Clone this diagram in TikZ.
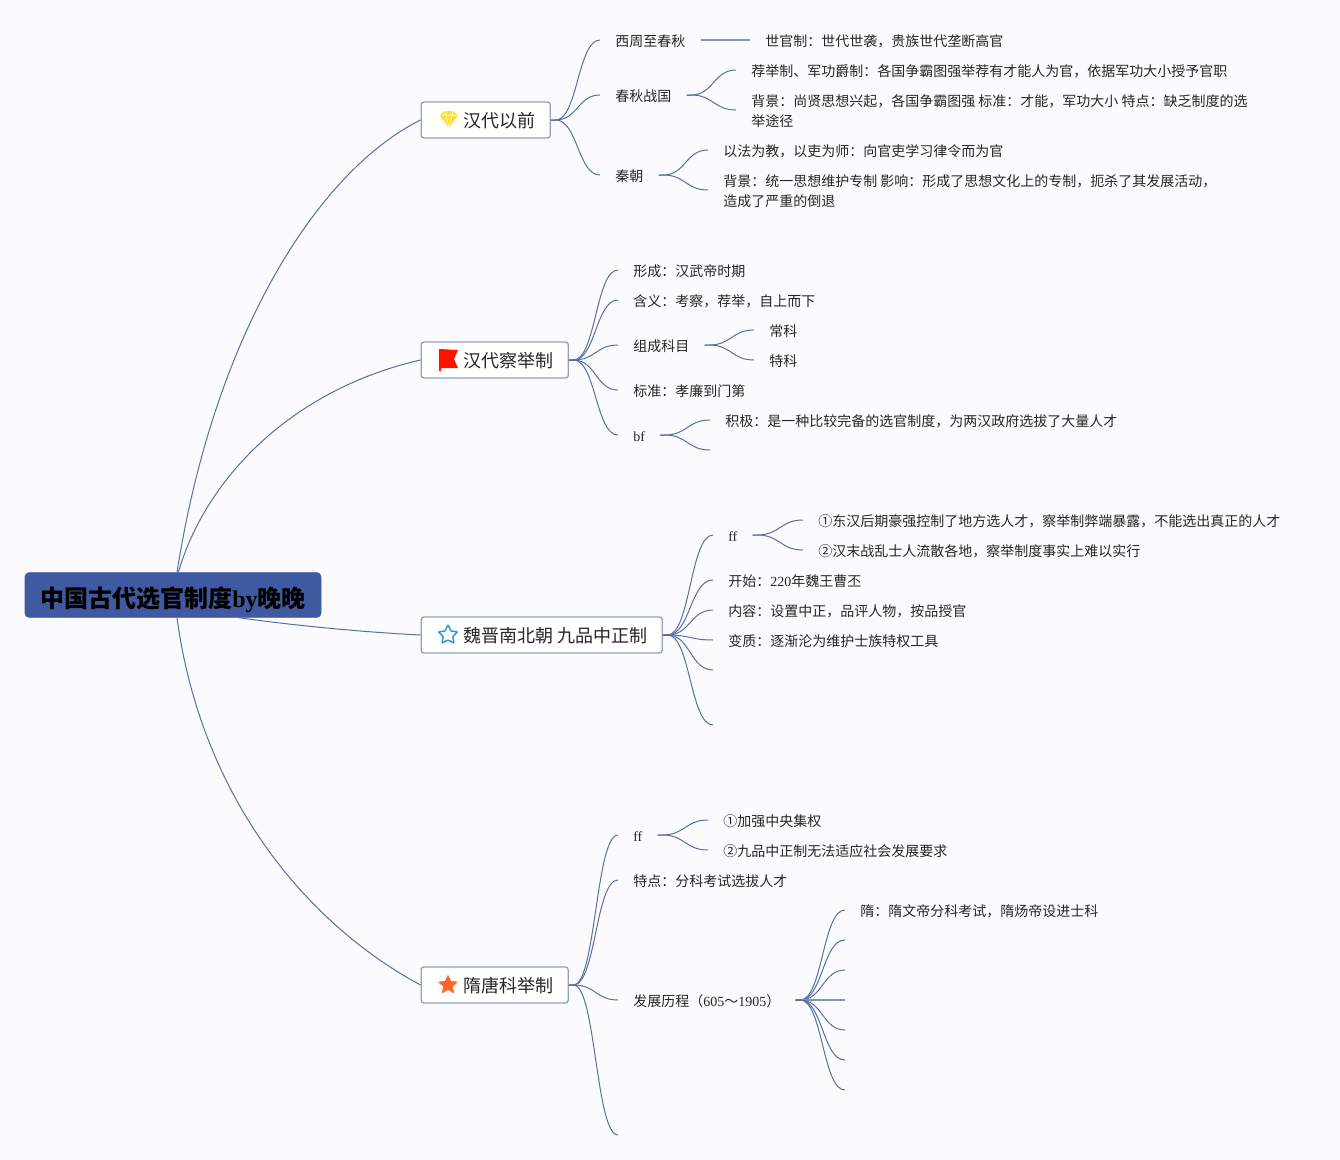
\documentclass[tikz,border=0pt]{standalone}
\usepackage{fontspec}
\setmainfont{Noto Sans CJK SC}
\newfontfamily\latfont{Liberation Serif}
\usepackage{xcolor}
\usetikzlibrary{shapes.geometric,calc}
\definecolor{bgcol}{HTML}{FBFBFD}
\definecolor{linecol}{HTML}{5A6EA6}
\definecolor{rootcol}{HTML}{3F5AA0}
\definecolor{boxcol}{HTML}{929FC6}
\tikzset{
	px/.style={x=0.75pt, y=-0.75pt},
	twig/.style={draw=linecol, line width=0.75pt, to path={let \p1=(\tikztostart), \p2=(\tikztotarget), \n1={0.5*(\x2-\x1)} in .. controls +(\n1,0) and +(-\n1,0) .. (\tikztotarget)}},
	trunk/.style={draw=linecol, line width=0.75pt},
	flat/.style={draw=linecol!75, line width=1.1pt},
	rootbox/.style={rectangle, rounded corners=3pt, fill=rootcol, draw=rootcol, minimum width=222pt, minimum height=33.5pt, inner sep=0pt, text height=20pt, text depth=2pt, font=\fontsize{18pt}{20pt}\bfseries, text=black},
	branch/.style={rectangle, rounded corners=2pt, draw=boxcol, line width=1pt, fill=white, anchor=west, minimum height=27pt, inner xsep=11.25pt, inner ysep=0pt, text height=14pt, text depth=2.2pt, font=\fontsize{13.5pt}{16pt}\selectfont, text=black!85},
	leaf/.style={anchor=west, inner xsep=11.25pt, inner ysep=0pt, align=left, text height=12.2pt, text depth=2.4pt, font=\fontsize{10.5pt}{15pt}\selectfont, text=black!85},
	twolines/.style={text height=27.4pt, text depth=2.6pt},
}
\newcommand{\lat}[1]{{\latfont #1}}
\newcommand{\gap}{\hspace*{20.25pt}}
\begin{document}
\begin{tikzpicture}[px]
	\fill[bgcol] (0,0) rectangle (1340,1160);
	\useasboundingbox (0,0) rectangle (1340,1160);
	
	\node[rootbox](ROOT) at (173,595){中国古代选官制度\lat{by}晚晚};
	
	\node[branch](B1) at (420.5,120){\gap 汉代以前};
	\node[branch](B2) at (420.5,360){\gap 汉代察举制};
	\node[branch](B3) at (420.5,635){\gap 魏晋南北朝 九品中正制};
	\node[branch](B4) at (420.5,985){\gap 隋唐科举制};
	
	\draw[trunk] ([xshift=3pt]ROOT.north) .. controls (215,330) and (320,170) .. (B1.west);
	\draw[trunk] ([xshift=4pt]ROOT.north) .. controls (205,480) and (290,390) .. (B2.west);
	\draw[trunk] ([xshift=49pt]ROOT.south) .. controls (290,625) and (360,632) .. (B3.west);
	\draw[trunk] ([xshift=3pt]ROOT.south) .. controls (200,790) and (300,920) .. (B4.west);
	
	% icons
	\fill[yellow!75!orange!80!white] (439.5,115) -- (445,111) -- (453,111) -- (458,115) -- (449,128) -- cycle;
	\draw[white, line width=0.4pt] (440,115) -- (458,115) (445,111) -- (449,128) (453,111) -- (449,128);
	\fill[red!85!orange] (439,349) -- (458,350) -- (454,359) -- (458,368) -- (441,368) -- (441,371) -- (439,371) -- cycle;
	\node[star, star points=5, star point ratio=2, draw=cyan!70!blue!85!white, line width=1.1pt, fill=white, minimum size=15pt, inner sep=0pt, rounded corners=0.5pt](ICON3) at (448,635){};
	\node[star, star points=5, star point ratio=2.2, draw=orange!60!red!85!white, fill=orange!60!red!85!white, rounded corners=0.5pt, minimum size=15pt, inner sep=0pt](ICON4) at (448,985){};
	
	% first branch
	\node[leaf](L1) at (600,40){西周至春秋};
	\node[leaf](L2) at (600,95){春秋战国};
	\node[leaf](L3) at (600,175){秦朝};
	\node[leaf](L1A) at (750,40){世官制：世代世袭，贵族世代垄断高官};
	\node[leaf](L2A) at (736,70){荐举制、军功爵制：各国争霸图强举荐有才能人为官，依据军功大小授予官职};
	\node[leaf, twolines](L2B) at (736,110){背景：尚贤思想兴起，各国争霸图强 标准：才能，军功大小 特点：缺乏制度的选\\举途径};
	\node[leaf](L3A) at (708,150){以法为教，以吏为师：向官吏学习律令而为官};
	\node[leaf, twolines](L3B) at (708,190){背景：统一思想维护专制 影响：形成了思想文化上的专制，扼杀了其发展活动，\\造成了严重的倒退};
	
	\draw[twig] (B1.east) -- ++(3.5pt,0) to (L1.west);
	\draw[twig] (B1.east) -- ++(3.5pt,0) to (L2.west);
	\draw[twig] (B1.east) -- ++(3.5pt,0) to (L3.west);
	\draw[flat] (L1.east) -- (L1A.west);
	\draw[twig] (L2.east) -- ++(3.5pt,0) to (L2A.west);
	\draw[twig] (L2.east) -- ++(3.5pt,0) to (L2B.west);
	\draw[twig] (L3.east) -- ++(3.5pt,0) to (L3A.west);
	\draw[twig] (L3.east) -- ++(3.5pt,0) to (L3B.west);
	
	% second branch
	\node[leaf](M1) at (618,270){形成：汉武帝时期};
	\node[leaf](M2) at (618,300){含义：考察，荐举，自上而下};
	\node[leaf](M3) at (618,345){组成科目};
	\node[leaf](M4) at (618,390){标准：孝廉到门第};
	\node[leaf](M5) at (618,435){\lat{bf}};
	\node[leaf](M3A) at (754,330){常科};
	\node[leaf](M3B) at (754,360){特科};
	\node[leaf](M5A) at (710,420){积极：是一种比较完备的选官制度，为两汉政府选拔了大量人才};
	\coordinate(M5B) at (710,450);
	
	\draw[twig] (B2.east) -- ++(3.5pt,0) to (M1.west);
	\draw[twig] (B2.east) -- ++(3.5pt,0) to (M2.west);
	\draw[twig] (B2.east) -- ++(3.5pt,0) to (M3.west);
	\draw[twig] (B2.east) -- ++(3.5pt,0) to (M4.west);
	\draw[twig] (B2.east) -- ++(3.5pt,0) to (M5.west);
	\draw[twig] (M3.east) -- ++(3.5pt,0) to (M3A.west);
	\draw[twig] (M3.east) -- ++(3.5pt,0) to (M3B.west);
	\draw[twig] (M5.east) -- ++(3.5pt,0) to (M5A.west);
	\draw[twig] (M5.east) -- ++(3.5pt,0) to (M5B);
	
	% third branch
	\node[leaf](N1) at (713,535){\lat{ff}};
	\node[leaf](N2) at (713,580){开始：\lat{220}年魏王曹丕};
	\node[leaf](N3) at (713,610){内容：设置中正，品评人物，按品授官};
	\node[leaf](N4) at (713,640){变质：逐渐沦为维护士族特权工具};
	\coordinate(N5) at (713,670);
	\coordinate(N6) at (713,725);
	\node[leaf](N1A) at (803,520){①东汉后期豪强控制了地方选人才，察举制弊端暴露，不能选出真正的人才};
	\node[leaf](N1B) at (803,550){②汉末战乱士人流散各地，察举制度事实上难以实行};
	
	\draw[twig] (B3.east) -- ++(3.5pt,0) to (N1.west);
	\draw[twig] (B3.east) -- ++(3.5pt,0) to (N2.west);
	\draw[twig] (B3.east) -- ++(3.5pt,0) to (N3.west);
	\draw[twig] (B3.east) -- ++(3.5pt,0) to (N4.west);
	\draw[twig] (B3.east) -- ++(3.5pt,0) to (N5);
	\draw[twig] (B3.east) -- ++(3.5pt,0) to (N6);
	\draw[twig] (N1.east) -- ++(3.5pt,0) to (N1A.west);
	\draw[twig] (N1.east) -- ++(3.5pt,0) to (N1B.west);
	
	% fourth branch
	\node[leaf](P1) at (618,835){\lat{ff}};
	\node[leaf](P2) at (618,880){特点：分科考试选拔人才};
	\node[leaf](P3) at (618,1000){发展历程（\lat{605}～\lat{1905}）};
	\coordinate(P4) at (618,1135);
	\node[leaf](P1A) at (708,820){①加强中央集权};
	\node[leaf](P1B) at (708,850){②九品中正制无法适应社会发展要求};
	\node[leaf](P3A) at (845,910){隋：隋文帝分科考试，隋炀帝设进士科};
	\coordinate(P3B) at (845,940);
	\coordinate(P3C) at (845,970);
	\coordinate(P3D) at (845,1000);
	\coordinate(P3E) at (845,1030);
	\coordinate(P3F) at (845,1060);
	\coordinate(P3G) at (845,1090);
	
	\draw[twig] (B4.east) -- ++(3.5pt,0) to (P1.west);
	\draw[twig] (B4.east) -- ++(3.5pt,0) to (P2.west);
	\draw[twig] (B4.east) -- ++(3.5pt,0) to (P3.west);
	\draw[twig] (B4.east) -- ++(3.5pt,0) to (P4);
	\draw[twig] (P1.east) -- ++(3.5pt,0) to (P1A.west);
	\draw[twig] (P1.east) -- ++(3.5pt,0) to (P1B.west);
	\draw[twig] (P3.east) -- ++(3.5pt,0) to (P3A.west);
	\draw[twig] (P3.east) -- ++(3.5pt,0) to (P3B);
	\draw[twig] (P3.east) -- ++(3.5pt,0) to (P3C);
	\draw[flat] (P3.east) -- (P3D);
	\draw[twig] (P3.east) -- ++(3.5pt,0) to (P3E);
	\draw[twig] (P3.east) -- ++(3.5pt,0) to (P3F);
	\draw[twig] (P3.east) -- ++(3.5pt,0) to (P3G);
\end{tikzpicture}
\end{document}
